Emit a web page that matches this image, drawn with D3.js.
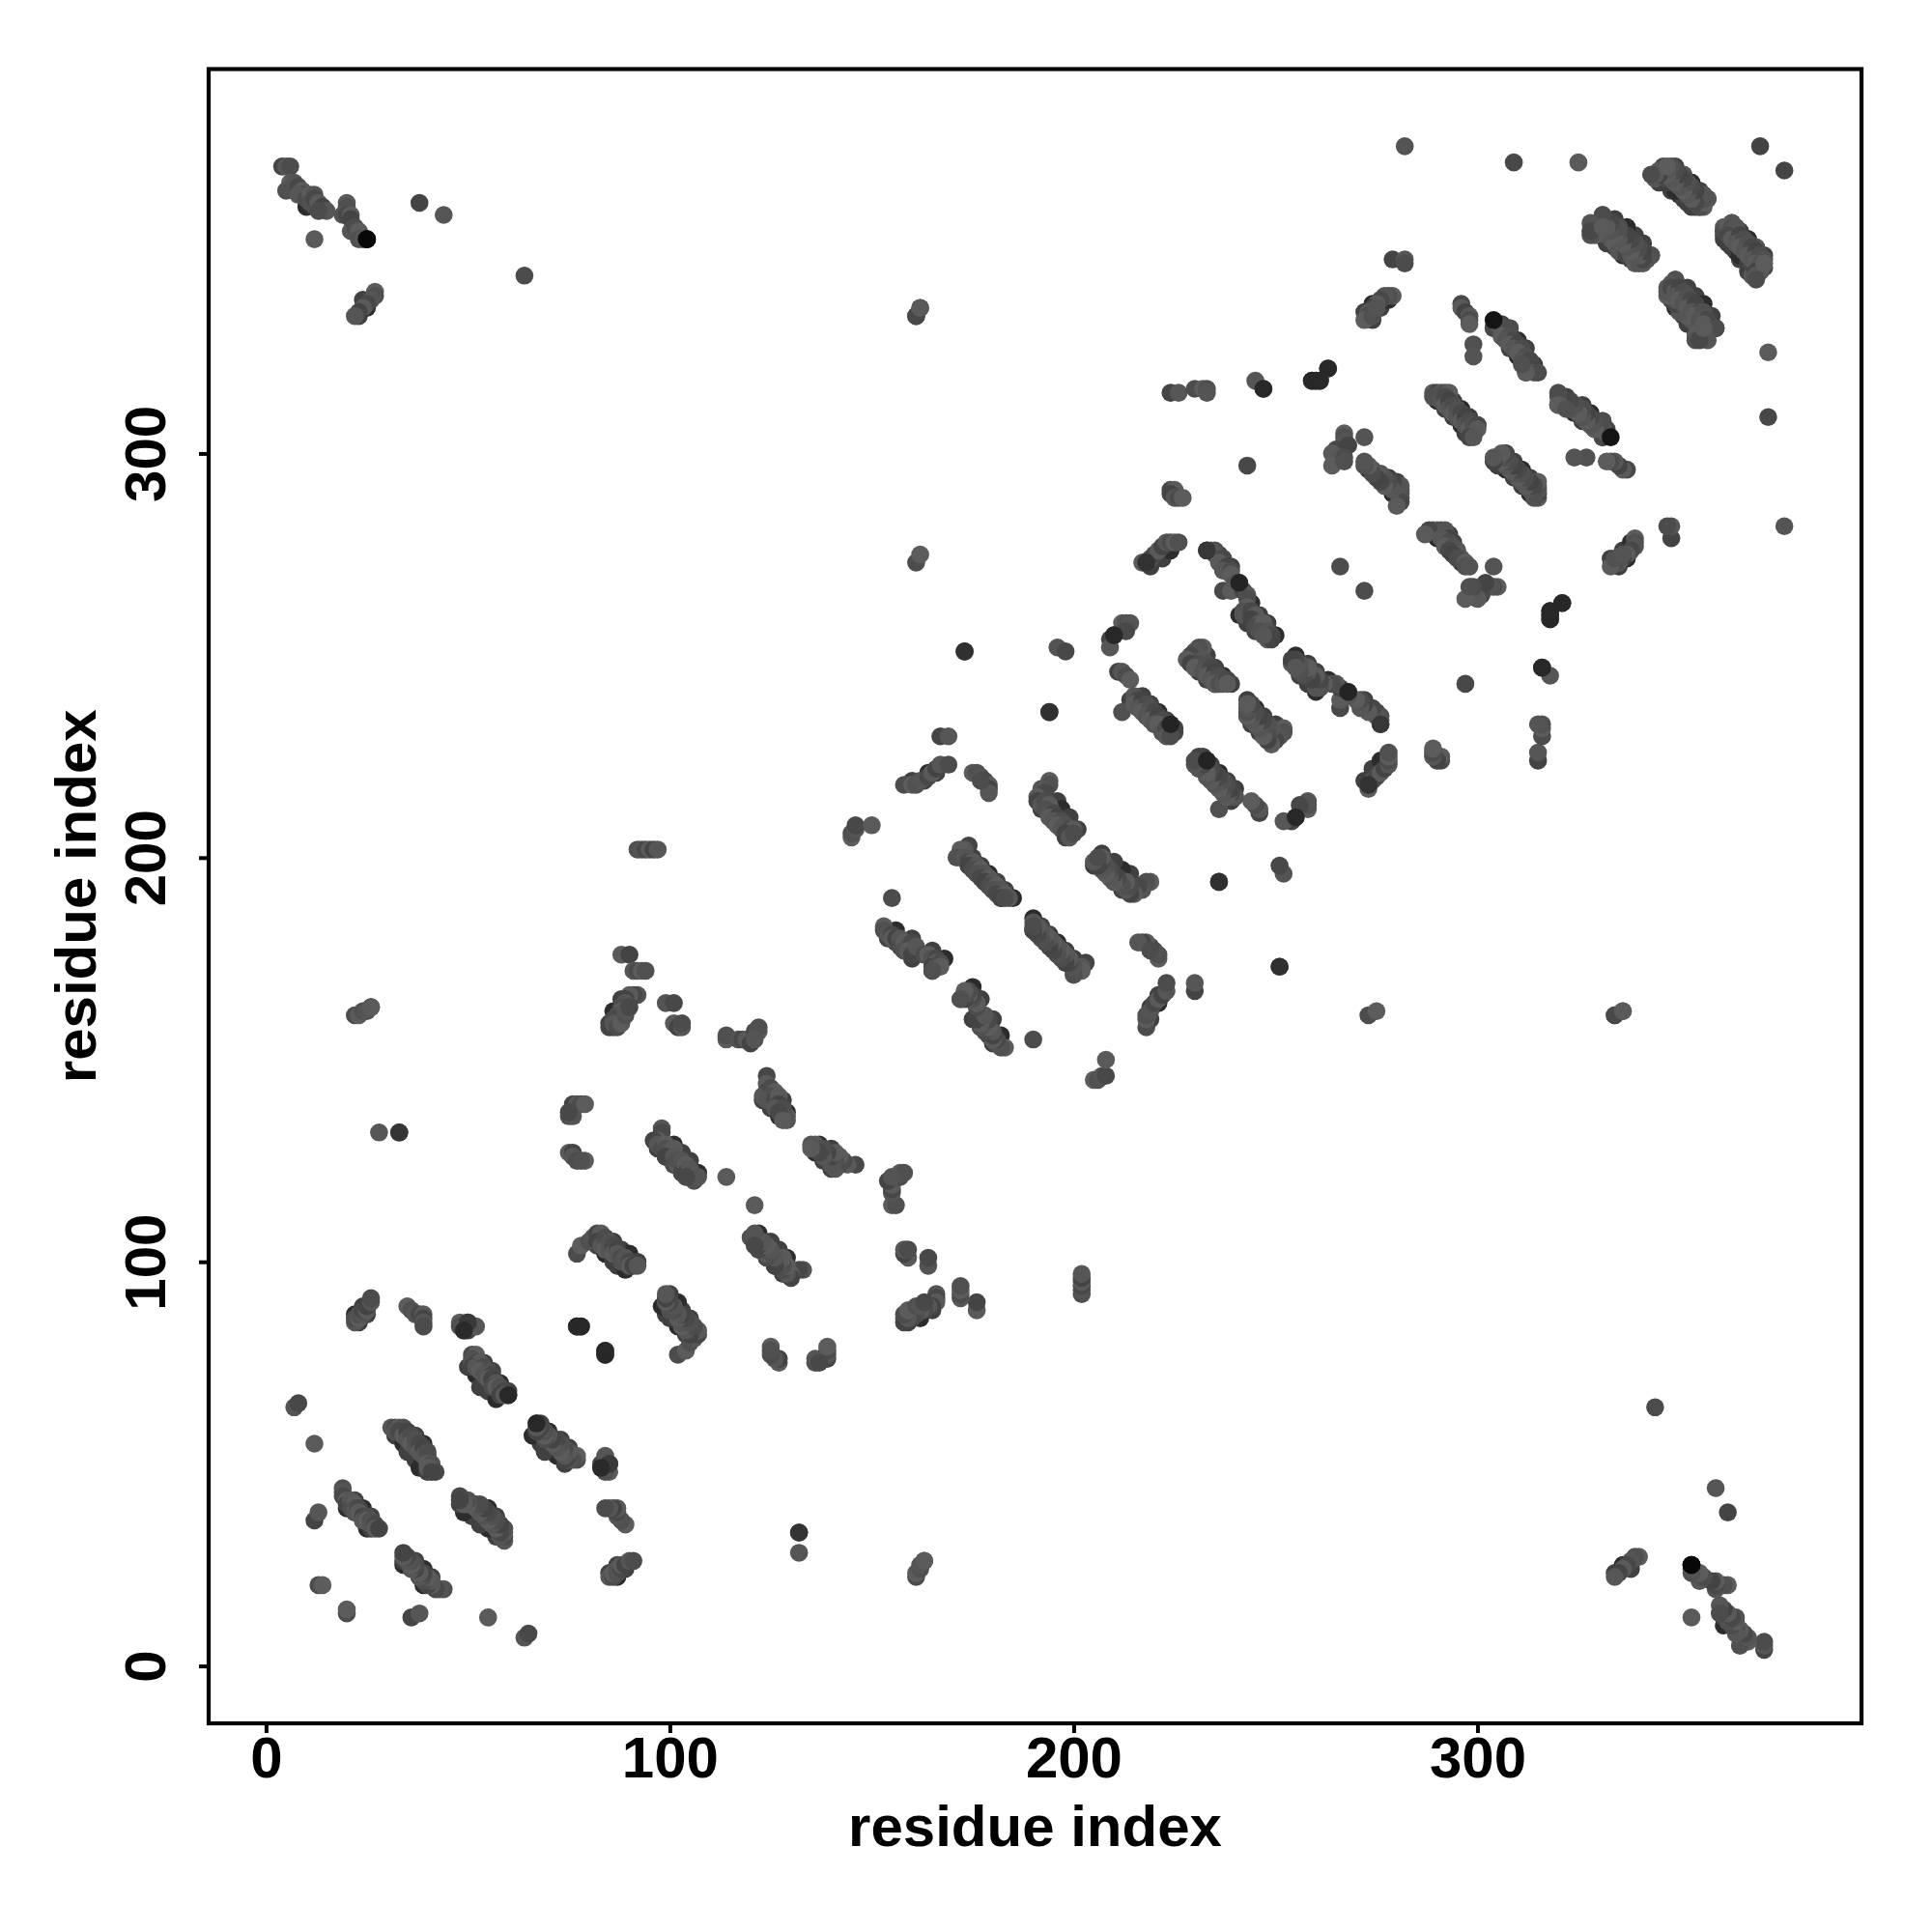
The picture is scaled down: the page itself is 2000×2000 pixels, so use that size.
<!DOCTYPE html>
<html><head><meta charset="utf-8">
<style>html,body{margin:0;padding:0;background:#fff}svg{display:block}text{font-family:"Liberation Sans",Arial,sans-serif;font-weight:bold;fill:#000}</style>
<script src="https://cdnjs.cloudflare.com/ajax/libs/d3/7.8.5/d3.min.js"></script>
</head><body><div id="c"></div>
<script>
const xTicks=[0,100,200,300];
const yTicks=[0,100,200,300];
const axisTitle="residue index";
// contacts (i<j); the map is symmetric, each pair is drawn at (i,j) and (j,i)
const contactI=[7,8,12,12,13,13,14,
19,19,19,20,20,21,21,22,22,22,23,23,24,24,25,25,26,26,27,27,28,
31,32,33,34,32,33,34,35,35,36,36,37,37,38,38,39,39,40,40,41,41,42,40,41,
22,22,23,23,24,24,25,25,26,26,
35,36,37,38,39,39,39,39,
48,48,49,50,49,50,52,
51,52,51,51,52,53,51,52,54,53,55,54,56,55,56,57,56,57,58,58,59,60,58,59,
77,78,80,81,82,83,82,83,84,84,85,85,86,86,87,87,88,89,88,89,90,90,91,92,
77,78,
92,93,94,95,96,97,155,
145,145,146,146,150,
174,173,172,172,171,173,174,175,174,176,175,177,176,178,177,179,178,180,179,181,180,182,181,183,182,184,183,
153,153,154,155,155,156,157,157,158,158,159,160,159,160,161,163,164,165,165,166,166,165,166,167,167,165,
92,91,90,89,89,88,88,87,87,86,86,85,86,87,88,89,89,90,
88,90,91,92,93,94,99,101,101,102,103,103,
114,114,117,118,119,120,121,121,122,122,121,
124,124,124,123,125,126,125,124,126,127,127,126,128,129,128,129,127,128,
76,77,78,79,75,76,75,75,76,76,77,79,78,
98,98,97,96,97,98,99,99,100,100,101,99,101,101,102,102,103,103,104,104,105,105,106,106,107,104,
114,33,28,
22,23,24,25,26,26,
4,5,6,6,5,7,8,9,9,8,10,11,11,12,12,13,14,15,13,20,20,19,20,21,21,21,22,23,23,24,25,12,38,44,64,27,27,26,25,24,23,22,
161,162,161,162,224,225,224,225,226,227,173,196,198,194,167,169,
158,160,161,162,164,165,166,167,169,175,176,177,178,179,179,179,177,
194,194,192,193,191,191,192,193,194,193,194,195,194,196,195,197,196,198,197,199,200,198,199,200,
212,213,214,213,210,209,209,
233,234,235,235,237,236,238,237,239,239,241,240,237,239,242,243,243,243,242,242,244,245,244,246,245,247,246,248,249,248,249,247,
266,
232,231,230,229,228,229,232,231,230,233,232,234,233,235,234,236,235,236,237,238,238,
211,212,213,214,212,215,216,215,217,216,218,217,219,218,220,219,221,220,222,221,224,222,223,224,225,223,224,
217,218,219,220,221,222,223,224,225,226,
282,309,325,370,
344,345,346,347,348,347,349,350,351,350,352,351,353,352,354,353,355,354,355,356,357,355,356,
331,329,329,329,331,332,333,332,334,333,335,334,336,335,337,338,337,338,339,339,340,340,341,342,343,341,
361,362,363,364,362,363,365,364,366,365,367,366,368,367,369,368,370,369,371,370,371,370,369,369,369,371,
349,348,348,349,350,349,351,350,352,351,353,352,354,353,355,354,356,355,357,356,358,357,359,355,354,357,355,356,
279,282,282,279,278,277,276,275,274,273,273,272,274,275,
296,296,297,298,298,298,299,299,
304,305,306,307,308,306,308,307,309,308,310,309,311,310,312,311,313,312,313,314,315,312,311,
263,259,260,261,245,247,
267,267,267,265,264,268,266,267,264,267,272,243,
289,290,291,292,293,289,291,292,292,293,293,294,294,295,295,296,296,297,297,298,298,299,299,300,300,298,299,
281,281,281,281,281,280,279,279,278,277,277,276,276,275,275,274,274,273,272,272,
161,162,224,226,230,232,233,233];
const contactJ=[64,65,55,36,38,20,20,
44,43,42,41,40,41,39,40,39,38,39,38,37,36,37,36,36,35,35,34,34,
59,59,59,59,58,58,57,58,56,57,55,56,54,55,53,54,52,53,50,50,49,48,49,48,
85,86,86,87,87,88,88,89,90,91,
89,88,87,87,87,86,85,84,
85,84,84,85,83,83,84,
77,77,76,75,75,75,74,74,74,73,73,72,72,71,71,70,69,69,69,68,68,67,67,67,
102,104,105,106,107,107,105,104,106,103,105,103,104,102,103,102,101,100,100,101,100,99,99,99,
84,84,
202,202,202,202,202,202,190,
205,206,207,208,208,
203,202,201,202,200,200,199,199,198,198,197,197,196,196,195,195,194,194,193,193,192,192,191,191,190,190,190,
183,182,181,181,180,180,180,178,179,177,178,179,177,176,178,176,176,175,174,175,174,173,173,174,173,172,
166,166,166,165,164,163,162,161,160,160,158,158,159,158,159,161,162,163,
176,176,172,172,172,172,164,164,159,158,158,159,
155,156,155,155,155,154,156,157,157,158,155,
146,144,142,141,143,142,141,140,140,141,139,138,138,136,137,135,137,135,
139,139,139,139,136,136,137,127,127,126,125,125,125,
133,132,130,130,129,128,129,128,127,126,128,126,126,124,124,125,125,122,124,122,123,121,121,120,121,121,
121,132,132,
161,161,162,162,163,163,
371,371,371,367,365,367,366,365,364,364,363,364,362,364,363,362,361,360,360,362,361,359,359,359,358,355,356,355,353,353,353,353,362,359,344,340,339,338,337,336,335,334,
273,275,334,336,291,291,290,289,289,289,251,252,251,236,230,230,
218,218,218,219,220,221,222,223,223,221,221,220,219,218,217,216,219,
219,218,217,216,215,214,213,214,213,212,211,211,210,210,209,209,208,208,207,207,207,206,205,206,
258,258,258,256,255,254,252,
276,276,276,275,274,273,272,271,271,270,268,268,266,266,266,265,264,262,261,260,261,260,259,258,257,258,256,256,255,254,254,255,
272,
252,252,251,250,249,248,249,248,247,248,246,247,245,246,244,245,243,243,243,244,243,
246,246,245,244,236,240,239,238,239,237,238,236,237,235,236,234,235,233,234,233,233,231,232,231,231,230,230,
273,273,274,275,276,277,278,278,278,278,
376,372,372,376,
368,370,370,370,370,368,369,368,369,367,367,366,366,365,365,364,364,362,362,363,363,361,361,
359,356,355,354,357,356,355,354,354,353,352,352,351,350,350,351,349,349,349,347,348,347,349,349,349,347,
355,356,356,356,354,353,354,352,353,351,352,350,351,349,350,348,349,347,348,347,346,345,345,344,343,347,
343,342,341,340,341,339,340,338,339,337,338,336,337,335,335,334,335,333,333,332,331,331,331,330,328,328,328,331,
348,348,347,339,339,339,338,337,336,335,334,333,334,336,
337,336,335,334,333,332,327,324,
331,332,332,331,331,329,329,328,328,327,327,326,326,325,324,323,323,321,321,320,320,320,322,
321,318,318,318,318,316,
305,304,303,301,300,302,299,299,297,298,304,297,
315,315,315,315,315,314,313,314,312,313,311,312,310,311,309,310,308,309,307,308,306,307,305,307,306,304,304,
289,290,291,292,288,287,293,291,293,292,294,295,293,295,294,296,295,297,297,298,
334,336,315,315,316,316,316,315];
// contacts on the flanks of the strands, darker and under the others
const flankI=[20,22,24,25,26,22,24,26,
32,34,35,37,38,40,37,39,40,
50,52,53,55,57,54,56,58,60,
82,84,86,87,89,86,88,90,92,
97,99,101,103,101,103,105,107,
123,125,127,126,128,129,
154,156,158,160,165,156,160,165,168,
172,174,176,178,180,182,175,177,179,181,183,185,
192,194,196,198,196,197,199,201,
241,243,245,244,246,248,250,236,239,
229,231,233,235,233,235,237,239,
214,216,218,220,222,217,219,221,223,225,
290,292,294,296,297,294,296,298,300,
304,306,308,310,312,308,310,312,314,
273,275,277,279,278,280,
330,332,334,336,338,333,335,337,339,341,
345,348,350,352,354,350,353,355,357,
361,363,365,367,365,367,369,371,
349,351,353,355,352,354,356,358,
88,86,85,89,87,219,222,224,
23,25,22,24,272,274,274,276,278,
24,23,25,160,163,164,166,7,10,12];
const flankJ=[39,38,36,34,34,41,39,37,
57,55,53,51,49,48,57,55,52,
74,72,69,68,66,75,73,70,68,
104,102,100,99,98,105,103,102,100,
128,126,124,122,129,127,125,122,
140,138,136,142,140,137,
180,179,177,175,172,182,180,177,175,
200,198,196,194,192,190,200,198,196,194,192,190,
212,210,208,205,214,212,210,207,
260,258,256,263,260,258,255,275,272,
248,246,244,243,250,247,245,243,
239,237,235,233,231,240,238,236,234,232,
313,311,309,307,305,313,311,309,307,
331,329,326,324,320,331,328,326,322,
296,294,292,290,294,293,
354,352,351,349,348,357,355,352,350,349,
367,365,364,362,361,369,367,365,363,
353,351,349,347,355,353,351,349,
338,336,334,332,341,339,337,334,
165,162,159,163,159,272,274,276,
85,87,87,89,335,337,333,336,338,
338,334,336,219,219,221,221,365,361,361];
// darkest contacts, drawn on top
const darkI=[25,25,60,173,194,77,78,304,263,259,260,261,247,33,233,241,224,210,218,85,49];
const darkJ=[353,353,67,251,236,84,84,333,321,318,318,318,316,132,276,268,233,255,273,50,83];
const darkGray=[8,8,40,48,48,40,40,20,40,40,40,40,40,52,55,36,36,40,50,58,42];
const shadeCycle=[84,72,90,68,86,76,92,80];
const width=2000,height=2000;
const L=216,R=1927,T=71.5,B=1784;
const x=d3.scaleLinear().domain([-14.2,395.1]).range([L,R]);
const y=d3.scaleLinear().domain([-14.2,395.1]).range([B,T]);
const svg=d3.select("#c").append("svg").attr("width",width).attr("height",height);
function both(a,b){const p=[];a.forEach((v,k)=>{p.push([v,b[k],k]);p.push([b[k],v,k]);});return p;}
const gray=g=>d3.rgb(g,g,g);
svg.append("g").selectAll("circle").data(both(flankI,flankJ)).join("circle")
 .attr("cx",d=>x(d[0])).attr("cy",d=>y(d[1])).attr("r",9.3)
 .attr("fill",d=>gray(d[2]%3?64:44));
svg.append("g").selectAll("circle").data(both(contactI,contactJ)).join("circle")
 .attr("cx",d=>x(d[0])).attr("cy",d=>y(d[1])).attr("r",9.3)
 .attr("fill",d=>gray(shadeCycle[d[2]%shadeCycle.length]));
svg.append("g").selectAll("circle").data(both(darkI,darkJ)).join("circle")
 .attr("cx",d=>x(d[0])).attr("cy",d=>y(d[1])).attr("r",9.3)
 .attr("fill",d=>gray(darkGray[d[2]]));
svg.append("rect").attr("x",L).attr("y",T).attr("width",R-L).attr("height",B-T)
 .attr("fill","none").attr("stroke","#000").attr("stroke-width",4.2);
const gx=svg.append("g").attr("transform",`translate(0,${B})`)
 .call(d3.axisBottom(x).tickValues(xTicks).tickSize(10).tickFormat(d3.format("d")));
gx.select(".domain").remove();
gx.selectAll("line").attr("stroke","#000").attr("stroke-width",4);
gx.selectAll("text").attr("font-size",60).attr("font-family","Liberation Sans").attr("font-weight","bold").attr("y",56).attr("dy",0);
const gy=svg.append("g").attr("transform",`translate(${L},0)`)
 .call(d3.axisLeft(y).tickValues(yTicks).tickSize(10).tickFormat(d3.format("d")));
gy.select(".domain").remove();
gy.selectAll("line").attr("stroke","#000").attr("stroke-width",4);
gy.selectAll("text").attr("font-size",60).attr("font-family","Liberation Sans").attr("font-weight","bold")
 .attr("text-anchor","middle").attr("x",0).attr("y",0).attr("dy",0)
 .attr("transform","translate(-45,0) rotate(-90)");
svg.append("text").attr("x",(L+R)/2).attr("y",1911).attr("text-anchor","middle").attr("font-size",60).text(axisTitle);
svg.append("text").attr("transform",`translate(99,${(T+B)/2}) rotate(-90)`).attr("text-anchor","middle").attr("font-size",60).text(axisTitle);
</script></body></html>
